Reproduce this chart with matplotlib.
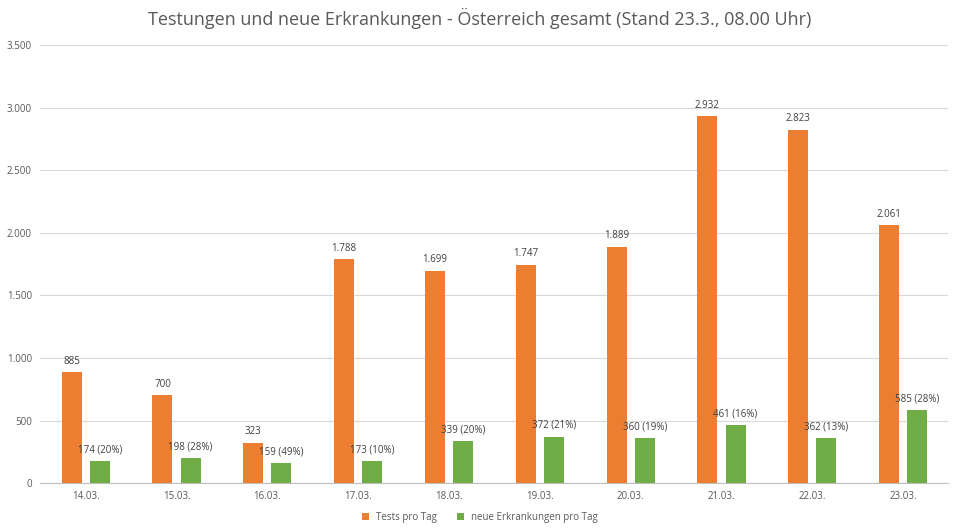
import numpy as np
import matplotlib.pyplot as plt

plt.rcParams['font.family'] = ['Open Sans', 'DejaVu Sans']

dates = ['14.03.', '15.03.', '16.03.', '17.03.', '18.03.', '19.03.', '20.03.', '21.03.', '22.03.', '23.03.']
tests = [885, 700, 323, 1788, 1699, 1747, 1889, 2932, 2823, 2061]
cases = [174, 198, 159, 173, 339, 372, 360, 461, 362, 585]
shares = [20, 28, 49, 10, 20, 21, 19, 16, 13, 28]

orange = '#ED7D31'
green = '#70AD47'

def fmt(v):
    return f"{v:,}".replace(',', '.')

fig = plt.figure(figsize=(9.6, 5.32), dpi=100)
ax = fig.add_axes([0.042, 0.092, 0.946, 0.823])
x = np.arange(len(dates))
off, w = 0.155, 0.22
b1 = ax.bar(x - off, tests, w, color=orange, label='Tests pro Tag', zorder=3)
b2 = ax.bar(x + off, cases, w, color=green, label='neue Erkrankungen pro Tag', zorder=3)

for xi, v in zip(x, tests):
    ax.text(xi - off, v + 45, fmt(v), ha='center', va='bottom', fontsize=7, color='#404040')
for xi, v, s in zip(x, cases, shares):
    ax.text(xi + off, v + 45, f"{v} ({s}%)", ha='center', va='bottom', fontsize=7, color='#404040')

ax.set_ylim(0, 3500)
ax.set_yticks(range(0, 3501, 500))
ax.set_yticklabels([fmt(v) for v in range(0, 3501, 500)], fontsize=7, color='#595959')
ax.set_xticks(x)
ax.set_xticklabels(dates, fontsize=7, color='#595959')
ax.set_xlim(-0.5, len(dates) - 0.5)
ax.grid(axis='y', color='#D9D9D9', linewidth=0.8, zorder=0)
for s in ['top', 'right', 'left']:
    ax.spines[s].set_visible(False)
ax.spines['bottom'].set_color('#BFBFBF')
ax.tick_params(length=0, pad=6)

fig.suptitle('Testungen und neue Erkrankungen - Österreich gesamt (Stand 23.3., 08.00 Uhr)',
             y=0.985, fontsize=13, color='#595959')
fig.legend(loc='lower center', bbox_to_anchor=(0.5, 0.0), ncol=2, frameon=False,
           fontsize=7, handlelength=0.7, handleheight=0.7, labelcolor='#595959')

fig.savefig('out.png', dpi=100)
